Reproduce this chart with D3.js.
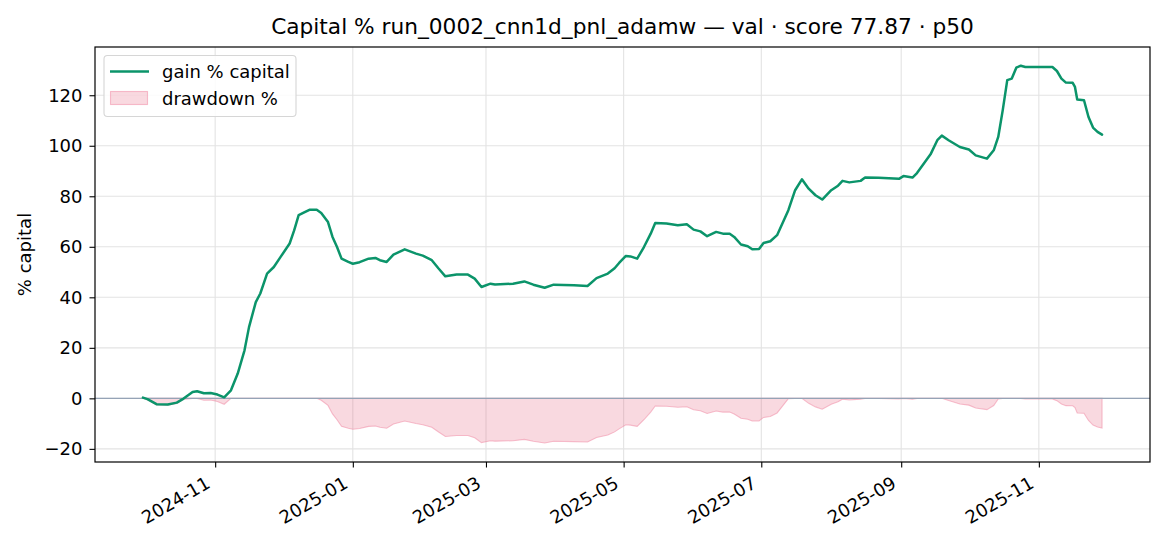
<!DOCTYPE html>
<html><head><meta charset="utf-8">
<script src="https://cdn.jsdelivr.net/npm/d3@7"></script>
<style>
html,body{margin:0;padding:0;background:#fff;}
svg{display:block;font-family:"DejaVu Sans",sans-serif;}
</style></head>
<body><svg id="chart" width="1170" height="546"></svg>
<script>
const dates = ["2024-09-30","2024-10-02","2024-10-06","2024-10-11","2024-10-15","2024-10-18","2024-10-22","2024-10-24","2024-10-27","2024-10-30",
"2024-11-02","2024-11-05","2024-11-08","2024-11-11","2024-11-14","2024-11-16","2024-11-19","2024-11-21","2024-11-24","2024-11-27","2024-11-30",
"2024-12-04","2024-12-06","2024-12-08","2024-12-10","2024-12-13","2024-12-16","2024-12-18","2024-12-21","2024-12-23","2024-12-25","2024-12-27","2024-12-30",
"2025-01-01","2025-01-04","2025-01-08","2025-01-11","2025-01-13","2025-01-16","2025-01-19","2025-01-24","2025-01-29",
"2025-02-01","2025-02-05","2025-02-08","2025-02-11","2025-02-16","2025-02-21","2025-02-24","2025-02-27",
"2025-03-03","2025-03-05","2025-03-13","2025-03-18","2025-03-22","2025-03-27","2025-03-31",
"2025-04-09","2025-04-15","2025-04-19","2025-04-24","2025-04-27","2025-04-29",
"2025-05-02","2025-05-04","2025-05-07","2025-05-10","2025-05-13","2025-05-15","2025-05-20","2025-05-25","2025-05-29",
"2025-06-01","2025-06-04","2025-06-07","2025-06-11","2025-06-14","2025-06-17","2025-06-19","2025-06-22","2025-06-25","2025-06-27","2025-06-30",
"2025-07-02","2025-07-05","2025-07-08","2025-07-11","2025-07-13","2025-07-16","2025-07-19","2025-07-22","2025-07-25","2025-07-28",
"2025-08-01","2025-08-04","2025-08-06","2025-08-09","2025-08-14","2025-08-16","2025-08-22","2025-08-31",
"2025-09-02","2025-09-06","2025-09-08","2025-09-14","2025-09-17","2025-09-19","2025-09-22","2025-09-27",
"2025-10-01","2025-10-04","2025-10-09","2025-10-12","2025-10-14","2025-10-16","2025-10-18","2025-10-20","2025-10-22","2025-10-24","2025-10-26",
"2025-11-07","2025-11-09","2025-11-11","2025-11-13","2025-11-16","2025-11-17","2025-11-18","2025-11-21","2025-11-23","2025-11-25","2025-11-27","2025-11-29"];

const gainPct = [0.3,-0.3,-2.3,-2.4,-1.7,-0.1,2.5,2.8,2.0,2.1,
1.5,0.4,3.2,9.8,19.0,28.2,38.1,41.5,49.4,52.0,56.0,
61.3,66.5,72.5,73.4,74.7,74.7,73.4,69.8,63.9,59.9,55.3,54.0,
53.3,53.9,55.3,55.6,54.7,54.0,56.9,59.0,57.3,
56.5,54.7,51.4,48.3,49.0,49.0,47.4,44.1,
45.4,45.1,45.4,46.3,45.0,43.8,45.0,
44.8,44.5,47.6,49.4,51.5,53.6,
56.4,56.2,55.3,59.9,65.2,69.4,69.2,68.5,68.9,
66.8,66.1,64.2,65.9,65.2,65.2,63.9,60.9,60.2,59.0,59.1,
61.5,62.2,64.6,70.5,74.5,82.4,86.7,83.0,80.4,78.7,
82.4,84.2,86.1,85.5,86.1,87.4,87.3,86.9,
88.0,87.4,89.2,96.6,102.2,104.0,102.2,99.5,
98.5,96.2,94.9,98.2,103.5,114.1,126.0,126.6,130.9,131.7,131.2,
131.2,129.6,126.6,125.0,124.9,123.3,118.3,118.0,111.4,107.2,105.5,104.4];

const yTicks = [-20,0,20,40,60,80,100,120];
const xTickDates = ["2024-11-01","2025-01-01","2025-03-01","2025-05-01","2025-07-01","2025-09-01","2025-11-01"];
const titleText = "Capital % run_0002_cnn1d_pnl_adamw \u2014 val \u00b7 score 77.87 \u00b7 p50";
const legendLabels = ["gain % capital","drawdown %"];

const parse = d3.timeParse("%Y-%m-%d");
const T = dates.map(parse);
// drawdown derived from the gain series (relative to running peak of capital)
let peak = -Infinity;
const ddPct = gainPct.map(g => { const c = 1 + g/100; peak = Math.max(peak, c); return (c/peak - 1)*100; });

const L = 95, R = 1150, TOP = 47, BOT = 462;
const FS = 18;
const svg = d3.select("#chart");
const green = "#0b946a";

const t0 = T[0], t1 = T[T.length-1], span = t1 - t0;
const x = d3.scaleTime().domain([new Date(+t0 - span*0.05), new Date(+t1 + span*0.05)]).range([L, R]);
const y = d3.scaleLinear().domain([-25.2, 139.1]).range([BOT, TOP]);

// grid
const g = svg.append("g");
g.selectAll(".gy").data(yTicks).join("line")
  .attr("x1", L).attr("x2", R).attr("y1", d=>y(d)).attr("y2", d=>y(d))
  .attr("stroke", "#e3e3e3").attr("stroke-width", 1.1);
g.selectAll(".gx").data(xTickDates.map(parse)).join("line")
  .attr("x1", d=>x(d)).attr("x2", d=>x(d)).attr("y1", TOP).attr("y2", BOT)
  .attr("stroke", "#e3e3e3").attr("stroke-width", 1.1);

// drawdown area
const area = d3.area().x((d,i)=>x(T[i])).y0(y(0)).y1(d=>y(d));
svg.append("path").datum(ddPct).attr("d", area)
  .attr("fill", "rgba(232,95,125,0.24)").attr("stroke", "rgba(240,140,165,0.55)").attr("stroke-width", 1.1);

// zero line
svg.append("line").attr("x1", L).attr("x2", R).attr("y1", y(0)).attr("y2", y(0))
  .attr("stroke", "#95a3b6").attr("stroke-width", 1.2);

// gain line
const line = d3.line().x((d,i)=>x(T[i])).y(d=>y(d));
svg.append("path").datum(gainPct).attr("d", line)
  .attr("fill", "none").attr("stroke", green).attr("stroke-width", 2.5)
  .attr("stroke-linejoin", "round").attr("stroke-linecap", "round");

// axes
const yAxis = d3.axisLeft(y).tickValues(yTicks).tickSize(5.5).tickPadding(7).tickFormat(d3.format("d"));
const ya = svg.append("g").attr("transform", `translate(${L},0)`).call(yAxis);
ya.select(".domain").remove();
ya.selectAll("text").attr("font-size", FS).attr("fill", "#000").attr("font-family", "DejaVu Sans");
ya.selectAll("line").attr("stroke", "#000").attr("stroke-width", 1.1);

const xAxis = d3.axisBottom(x).tickValues(xTickDates.map(parse)).tickSize(5.5).tickFormat(d3.timeFormat("%Y-%m"));
const xa = svg.append("g").attr("transform", `translate(0,${BOT})`).call(xAxis);
xa.select(".domain").remove();
xa.selectAll("line").attr("stroke", "#000").attr("stroke-width", 1.1);
xa.selectAll("text")
  .attr("font-size", FS).attr("fill", "#000").attr("font-family", "DejaVu Sans")
  .attr("text-anchor", "end").attr("dy", null).attr("y", null)
  .attr("transform", "translate(-11,13) rotate(-30)")
  .attr("dominant-baseline", "hanging");

// frame
svg.append("rect").attr("x", L).attr("y", TOP).attr("width", R-L).attr("height", BOT-TOP)
  .attr("fill", "none").attr("stroke", "#000").attr("stroke-width", 1.2);

// title & y label
svg.append("text").attr("x", (L+R)/2).attr("y", 34).attr("text-anchor", "middle")
  .attr("font-size", 21.7).attr("fill", "#000").text(titleText);
svg.append("text").attr("transform", `translate(31,${(TOP+BOT)/2}) rotate(-90)`).attr("text-anchor", "middle")
  .attr("font-size", FS).attr("fill", "#000").text("% capital");

// legend
const lg = svg.append("g");
lg.append("rect").attr("x", 104).attr("y", 55.5).attr("width", 192).attr("height", 61).attr("rx", 3.5)
  .attr("fill", "rgba(255,255,255,0.85)").attr("stroke", "#d6d6d6").attr("stroke-width", 1.1);
lg.append("line").attr("x1", 110).attr("x2", 149).attr("y1", 71.5).attr("y2", 71.5)
  .attr("stroke", green).attr("stroke-width", 2.5);
lg.append("rect").attr("x", 110.5).attr("y", 91.5).attr("width", 37).attr("height", 13)
  .attr("fill", "rgba(232,95,125,0.24)").attr("stroke", "rgba(240,140,165,0.55)").attr("stroke-width", 1.1);
lg.append("text").attr("x", 162).attr("y", 78).attr("font-size", FS).attr("fill", "#000").text(legendLabels[0]);
lg.append("text").attr("x", 162).attr("y", 105).attr("font-size", FS).attr("fill", "#000").text(legendLabels[1]);
</script>
</body></html>
